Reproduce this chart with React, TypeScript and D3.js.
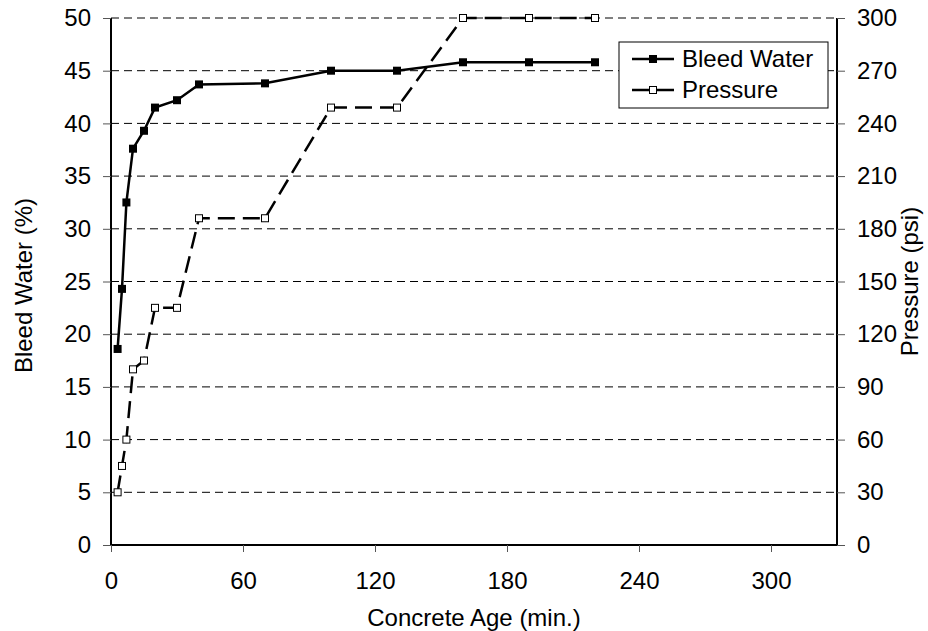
import React, { useEffect, useRef } from "react";
import * as d3 from "d3";

// concrete age (min.)
const ages = [3, 5, 7, 10, 15, 20, 30, 40, 70, 100, 130, 160, 190, 220];
// bleed water (%)
const bleedWater = [18.6, 24.3, 32.5, 37.6, 39.3, 41.5, 42.2, 43.7, 43.8, 45.0, 45.0, 45.8, 45.8, 45.8];
// pressure (psi)
const pressure = [30, 45, 60, 100, 105, 135, 135, 186, 186, 249, 249, 300, 300, 300];

const xTicks = [0, 60, 120, 180, 240, 300];
const leftTicks = [0, 5, 10, 15, 20, 25, 30, 35, 40, 45, 50];
const rightTicks = [0, 30, 60, 90, 120, 150, 180, 210, 240, 270, 300];

const W = 928;
const H = 631;
const FONT = "'Liberation Sans', Arial, sans-serif";

const App: React.FC = () => {
  const ref = useRef<SVGSVGElement>(null);

  useEffect(() => {
    if (!ref.current) return;
    const svg = d3.select(ref.current);
    svg.selectAll("*").remove();

    const left = 111, right = 837, top = 18, bottom = 545;

    const x = d3.scaleLinear().domain([0, 330]).range([left, right]);
    const yL = d3.scaleLinear().domain([0, 50]).range([bottom, top]);
    const yR = d3.scaleLinear().domain([0, 300]).range([bottom, top]);

    svg.append("rect").attr("width", W).attr("height", H).attr("fill", "#fff");

    // gridlines
    svg.append("g")
      .selectAll("line")
      .data(leftTicks.filter((d) => d > 0))
      .enter().append("line")
      .attr("x1", left).attr("x2", right)
      .attr("y1", (d) => yL(d)).attr("y2", (d) => yL(d))
      .attr("stroke", "#000")
      .attr("stroke-width", 1)
      .attr("stroke-dasharray", "8 5");

    // axes
    const xAxis = svg.append("g")
      .attr("transform", `translate(0,${bottom})`)
      .call(d3.axisBottom(x).tickValues(xTicks).tickSize(7).tickPadding(20));
    const leftAxis = svg.append("g")
      .attr("transform", `translate(${left},0)`)
      .call(d3.axisLeft(yL).tickValues(leftTicks).tickSize(8).tickPadding(12));
    const rightAxis = svg.append("g")
      .attr("transform", `translate(${right},0)`)
      .call(d3.axisRight(yR).tickValues(rightTicks).tickSize(8).tickPadding(12));

    [xAxis, leftAxis, rightAxis].forEach((g) => {
      g.select(".domain").attr("stroke", "#000").attr("stroke-width", 2);
      g.selectAll(".tick line").attr("stroke", "#555").attr("stroke-width", 1);
      g.selectAll(".tick text")
        .attr("font-family", FONT)
        .attr("font-size", 24)
        .attr("fill", "#000");
    });
    // remove outer tick ends on domain path
    xAxis.select(".domain").attr("d", `M${left},0H${right}`);
    leftAxis.select(".domain").attr("d", `M0,${bottom}V${top}`);
    rightAxis.select(".domain").attr("d", `M0,${bottom}V${top}`);

    // axis titles
    svg.append("text")
      .attr("x", (left + right) / 2).attr("y", 626)
      .attr("text-anchor", "middle")
      .attr("font-family", FONT).attr("font-size", 24)
      .text("Concrete Age (min.)");
    svg.append("text")
      .attr("transform", `translate(32,${(top + bottom) / 2 + 4}) rotate(-90)`)
      .attr("text-anchor", "middle")
      .attr("font-family", FONT).attr("font-size", 24)
      .text("Bleed Water (%)");
    svg.append("text")
      .attr("transform", `translate(918,${(top + bottom) / 2}) rotate(-90)`)
      .attr("text-anchor", "middle")
      .attr("font-family", FONT).attr("font-size", 24)
      .text("Pressure (psi)");

    const bleedPts = ages.map((a, i) => [x(a), yL(bleedWater[i])] as [number, number]);
    const pressPts = ages.map((a, i) => [x(a), yR(pressure[i])] as [number, number]);
    const line = d3.line();

    // pressure series
    svg.append("path")
      .attr("d", line(pressPts))
      .attr("fill", "none")
      .attr("stroke", "#000")
      .attr("stroke-width", 2.5)
      .attr("stroke-dasharray", "17 8");
    svg.append("g").selectAll("rect")
      .data(pressPts)
      .enter().append("rect")
      .attr("x", (d) => d[0] - 3.5).attr("y", (d) => d[1] - 3.5)
      .attr("width", 7).attr("height", 7)
      .attr("fill", "#fff").attr("stroke", "#000").attr("stroke-width", 1);

    // bleed water series
    svg.append("path")
      .attr("d", line(bleedPts))
      .attr("fill", "none")
      .attr("stroke", "#000")
      .attr("stroke-width", 2.5);
    svg.append("g").selectAll("rect")
      .data(bleedPts)
      .enter().append("rect")
      .attr("x", (d) => d[0] - 4).attr("y", (d) => d[1] - 4)
      .attr("width", 8).attr("height", 8)
      .attr("fill", "#000");

    // legend
    const lg = svg.append("g");
    lg.append("rect")
      .attr("x", 619).attr("y", 42).attr("width", 209).attr("height", 66)
      .attr("fill", "#fff").attr("stroke", "#000").attr("stroke-width", 1);
    lg.append("line")
      .attr("x1", 632).attr("x2", 674).attr("y1", 59).attr("y2", 59)
      .attr("stroke", "#000").attr("stroke-width", 2.5);
    lg.append("rect")
      .attr("x", 649).attr("y", 55).attr("width", 8).attr("height", 8).attr("fill", "#000");
    lg.append("line")
      .attr("x1", 632).attr("x2", 674).attr("y1", 90).attr("y2", 90)
      .attr("stroke", "#000").attr("stroke-width", 2.5)
      .attr("stroke-dasharray", "17 8");
    lg.append("rect")
      .attr("x", 649.5).attr("y", 86.5).attr("width", 7).attr("height", 7)
      .attr("fill", "#fff").attr("stroke", "#000").attr("stroke-width", 1);
    lg.append("text")
      .attr("x", 682).attr("y", 67)
      .attr("font-family", FONT).attr("font-size", 24)
      .text("Bleed Water");
    lg.append("text")
      .attr("x", 682).attr("y", 98)
      .attr("font-family", FONT).attr("font-size", 24)
      .text("Pressure");
  }, []);

  return (
    <div style={{ position: "absolute", left: 0, top: 0 }}>
      <svg ref={ref} width={W} height={H}></svg>
    </div>
  );
};

export default App;
